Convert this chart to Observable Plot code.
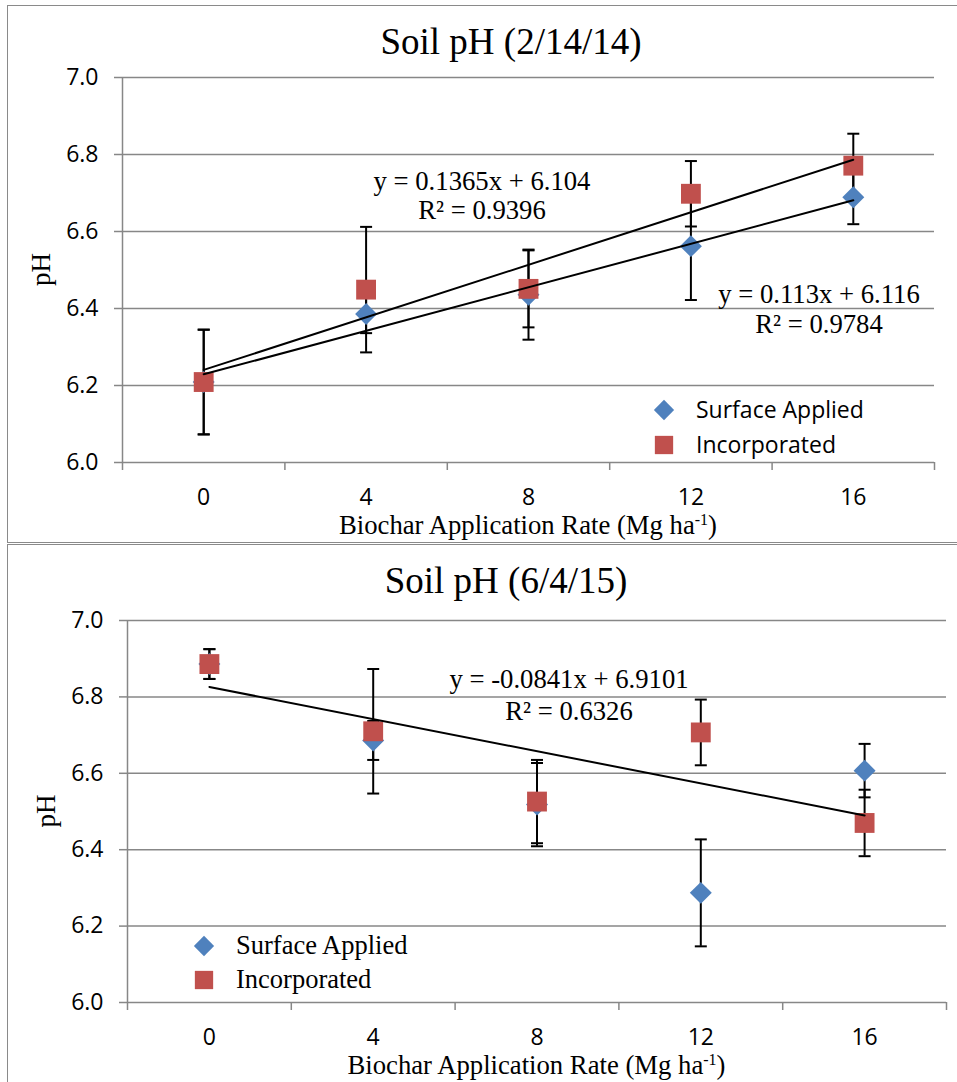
<!DOCTYPE html>
<html><head><meta charset="utf-8">
<script src="https://cdn.jsdelivr.net/npm/d3@7"></script>
<script src="https://cdn.jsdelivr.net/npm/@observablehq/plot@0.6"></script>
<style>
html,body{margin:0;padding:0;background:#fff;width:957px;height:1082px;overflow:hidden;position:relative;}
.panel{position:absolute;box-sizing:border-box;border:1.5px solid #8a8a8a;}
.chart{position:absolute;left:0;}
.chart svg{overflow:visible;}
</style></head><body>
<div class="panel" style="left:7px;top:5px;width:1000px;height:538px"></div>
<div class="panel" style="left:7px;top:544px;width:1000px;height:600px"></div>
<div id="c1" class="chart" style="top:0px"></div>
<div id="c2" class="chart" style="top:544px"></div>
<script>
// ---------- data ----------
const rates = [0, 4, 8, 12, 16];
const seriesNames = ["Surface Applied", "Incorporated"];
const yTicks = [6.0, 6.2, 6.4, 6.6, 6.8, 7.0];
const titles = ["Soil pH (2/14/14)", "Soil pH (6/4/15)"];
const yLabel = "pH";
const xLabelParts = ["Biochar Application Rate (Mg ha", "-1", ")"];

// 2/14/14
const feb14Surface    = [6.209, 6.386, 6.436, 6.562, 6.689];
const feb14SurfaceErr = [0.136, 0.050, 0.117, 0.140, 0.070];
const feb14Incorp     = [6.209, 6.449, 6.451, 6.698, 6.771];
const feb14IncorpErr  = [0.136, 0.163, 0.100, 0.085, 0.083];
// trendlines (Excel, x = category index 1..5)
const feb14TrendSeries = ["Incorporated", "Surface Applied"];
const feb14Slopes      = [0.1365, 0.113];
const feb14Intercepts  = [6.104, 6.116];
const feb14Eq          = ["y = 0.1365x + 6.104", "y = 0.113x + 6.116"];
const feb14R2          = ["R² = 0.9396", "R² = 0.9784"];

// 6/4/15
const jun15Surface    = [6.886, 6.686, 6.518, 6.287, 6.607];
const jun15SurfaceErr = [0.039, 0.051, 0.109, 0.140, 0.070];
const jun15Incorp     = [6.886, 6.710, 6.526, 6.707, 6.470];
const jun15IncorpErr  = [0.039, 0.163, 0.109, 0.086, 0.087];
const jun15TrendSeries = ["Incorporated"];
const jun15Slopes      = [-0.0841];
const jun15Intercepts  = [6.9101];
const jun15Eq          = ["y = -0.0841x + 6.9101"];
const jun15R2          = ["R² = 0.6326"];

// ---------- style ----------
const BLUE = "#4F81BD", RED = "#C0504D", GRID = "#878787";
const SANS = "'Open Sans', sans-serif", SERIF = "'Liberation Serif', 'Times New Roman', serif";
const DIAMOND_R = 9.9, SQUARE_R = 11.2;

const capSymbol = {draw(ctx) { ctx.moveTo(-6, 0); ctx.lineTo(6, 0); }};

function rowsOf(series, vals, errs) {
  return rates.map((r, i) => ({rate: r, series, v: vals[i], e: errs[i]}));
}

function makeChart(el, d, L) {
  const surf = rowsOf(seriesNames[0], d.surface, d.surfaceErr);
  const inc = rowsOf(seriesNames[1], d.incorp, d.incorpErr);
  const all = surf.concat(inc);
  const caps = all.flatMap(r => [{rate: r.rate, y: r.v + r.e}, {rate: r.rate, y: r.v - r.e}]);
  const trend = d.trendSeries.flatMap((s, k) =>
    [rates[0], rates[rates.length - 1]].map(r => ({series: s, rate: r, y: d.intercepts[k] + d.slopes[k] * (r / 4 + 1)})));
  const boundaries = [-2, 2, 6, 10, 14, 18];

  const plot = Plot.plot({
    width: 957, height: L.height,
    marginTop: L.mt, marginBottom: L.mb, marginLeft: L.ml, marginRight: L.mr,
    x: {type: "linear", domain: [-2, 18], label: null},
    y: {domain: [6, 7], label: null},
    style: {background: "transparent", color: "black"},
    marks: [
      Plot.ruleY(yTicks, {stroke: GRID, strokeWidth: 1.5}),
      Plot.ruleX([-2], {stroke: GRID, strokeWidth: 1.5}),
      Plot.axisY({ticks: yTicks, tickSize: 8, tickPadding: 16, stroke: GRID, strokeWidth: 1.5, fill: "black",
        fontSize: 23, fontFamily: SANS, tickFormat: v => v.toFixed(1), label: null}),
      Plot.axisX({ticks: boundaries, tickSize: 8, stroke: GRID, strokeWidth: 1.5, tickFormat: () => "", label: null}),
      Plot.axisX({ticks: rates, tickSize: 0, tickPadding: 26, fill: "black", fontSize: 23, fontFamily: SANS,
        tickFormat: v => String(v), label: null}),
      Plot.ruleX(all, {x: "rate", y1: r => r.v - r.e, y2: r => r.v + r.e, stroke: "black", strokeWidth: 2}),
      Plot.dot(caps, {x: "rate", y: "y", symbol: capSymbol, r: 3, fill: "none", stroke: "black", strokeWidth: 2}),
      Plot.dot(surf, {x: "rate", y: "v", symbol: "diamond2", r: DIAMOND_R, fill: BLUE}),
      Plot.dot(inc, {x: "rate", y: "v", symbol: "square", r: SQUARE_R, fill: RED}),
      Plot.line(trend, {x: "rate", y: "y", z: "series", stroke: "black", strokeWidth: 2})
    ]
  });
  el.appendChild(plot);
  const svg = d3.select(plot);

  // title
  svg.append("text").attr("x", L.titleX).attr("y", L.titleY).attr("text-anchor", "middle")
    .style("font-family", SERIF).style("font-size", "37px").attr("fill", "black").text(d.title);

  // y label
  svg.append("text").attr("transform", `translate(${L.ml - 72},${(L.mt + L.height - L.mb) / 2}) rotate(-90)`)
    .attr("text-anchor", "middle").style("font-family", SERIF).style("font-size", "27px").attr("fill", "black").text(yLabel);

  // x label
  const xl = svg.append("text").attr("x", (L.ml + 957 - L.mr) / 2).attr("y", L.height - L.mb + L.xlOff)
    .attr("text-anchor", "middle").style("font-family", SERIF).style("font-size", "26.7px").attr("fill", "black");
  xl.append("tspan").text(xLabelParts[0]);
  xl.append("tspan").attr("dy", -9).style("font-size", "16px").text(xLabelParts[1]);
  xl.append("tspan").attr("dy", 9).text(xLabelParts[2]);

  // trendline equations
  d.eq.forEach((s, k) => {
    const a = L.annot[k];
    svg.append("text").attr("x", a.x).attr("y", a.y1).attr("text-anchor", "middle")
      .style("font-family", SERIF).style("font-size", "26.7px").attr("fill", "black").text(s);
    svg.append("text").attr("x", a.x).attr("y", a.y2).attr("text-anchor", "middle")
      .style("font-family", SERIF).style("font-size", "26.7px").attr("fill", "black").text(d.r2[k]);
  });

  // legend
  const syms = [d3.symbol(d3.symbolDiamond2, DIAMOND_R * DIAMOND_R * Math.PI * 0.85),
                d3.symbol(d3.symbolSquare, SQUARE_R * SQUARE_R * Math.PI * 0.85)];
  const cols = [BLUE, RED];
  seriesNames.forEach((name, k) => {
    const cy = L.legY + k * L.legDy;
    svg.append("path").attr("d", syms[k]()).attr("transform", `translate(${L.legX},${cy})`).attr("fill", cols[k]);
    svg.append("text").attr("x", L.legTextX).attr("y", cy + 8).attr("text-anchor", "start")
      .style("font-family", L.legFont).style("font-size", L.legSize).attr("fill", "black").text(name);
  });
}

makeChart(document.getElementById("c1"), {
  surface: feb14Surface, surfaceErr: feb14SurfaceErr, incorp: feb14Incorp, incorpErr: feb14IncorpErr,
  trendSeries: feb14TrendSeries, slopes: feb14Slopes, intercepts: feb14Intercepts,
  eq: feb14Eq, r2: feb14R2, title: titles[0]
}, {
  height: 544, mt: 77, mb: 82, ml: 122, mr: 23, xlOff: 72,
  titleX: 511, titleY: 54,
  annot: [{x: 482, y1: 190, y2: 219}, {x: 819, y1: 303, y2: 333}],
  legX: 664, legY: 410, legDy: 35, legTextX: 696, legFont: SANS, legSize: "23px"
});

makeChart(document.getElementById("c2"), {
  surface: jun15Surface, surfaceErr: jun15SurfaceErr, incorp: jun15Incorp, incorpErr: jun15IncorpErr,
  trendSeries: jun15TrendSeries, slopes: jun15Slopes, intercepts: jun15Intercepts,
  eq: jun15Eq, r2: jun15R2, title: titles[1]
}, {
  height: 538, mt: 76, mb: 80, ml: 127, mr: 11, xlOff: 72,
  titleX: 506, titleY: 49,
  annot: [{x: 569, y1: 144, y2: 176}],
  legX: 204, legY: 402, legDy: 34, legTextX: 236, legFont: SERIF, legSize: "26.5px"
});
</script>
</body></html>
